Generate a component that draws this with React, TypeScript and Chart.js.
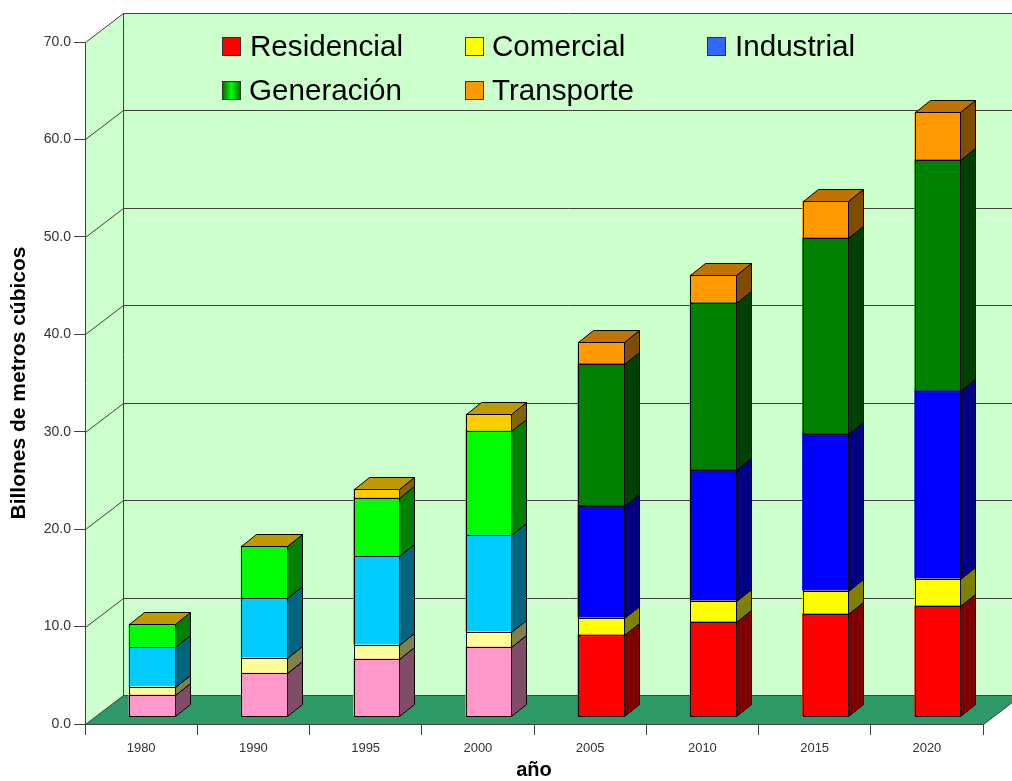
import React, { useEffect, useRef } from "react";
import { Chart, registerables } from "chart.js";

Chart.register(...registerables);

const years = ["1980", "1990", "1995", "2000", "2005", "2010", "2015", "2020"];
const residencial = [2.16, 4.4, 5.85, 7.08, 8.32, 9.65, 10.47, 11.29];
const comercial = [0.85, 1.55, 1.44, 1.54, 1.75, 2.16, 2.36, 2.77];
const industrial = [4.05, 6.16, 9.14, 9.96, 11.5, 13.45, 16.12, 19.3];
const generacion = [2.36, 5.34, 5.95, 10.68, 14.58, 17.15, 20.12, 23.7];
const transporte = [0, 0, 0.92, 1.75, 2.26, 2.87, 3.8, 4.93];

const seriesNames = ["Residencial", "Comercial", "Industrial", "Generación", "Transporte"];
const seriesValues = [residencial, comercial, industrial, generacion, transporte];
const pastelColors = ["#FF99CC", "#FFFF99", "#00CCFF", "#00FF00", "#FFCC00"];
const brightColors = ["#FF0000", "#FFFF00", "#0000FF", "#008000", "#FF9900"];
const pastelYearCount = 4;

const legendColors = ["#FF0000", "#FFFF00", "#3366FF", "#00FF00", "#FF9900"];
const legendSlots = [
  { box: 222, text: 250, base: 56, row: 37 },
  { box: 465, text: 492, base: 56, row: 37 },
  { box: 707, text: 735, base: 56, row: 37 },
  { box: 222, text: 249, base: 100, row: 81 },
  { box: 465, text: 492, base: 100, row: 81 },
];

const FONT = "'Liberation Sans', Arial, sans-serif";
const WALL = "#CCFFCC";
const FLOOR = "#2E9966";
const LINE = "#404040";
const DEPTH_X = 38;
const DEPTH_Y = -29;
const BAR_SHIFT_X = 10.75;
const BAR_SHIFT_Y = -8;
const BAR_DEPTH_X = 15;
const BAR_DEPTH_Y = -12;

function shade(hex: string, f: number) {
  const n = parseInt(hex.slice(1), 16);
  const r = Math.round(((n >> 16) & 255) * f);
  const g = Math.round(((n >> 8) & 255) * f);
  const b = Math.round((n & 255) * f);
  return `rgb(${r},${g},${b})`;
}

function poly(ctx: CanvasRenderingContext2D, pts: number[][], fill: string | null, stroke: string | null) {
  ctx.beginPath();
  pts.forEach((p, i) => (i ? ctx.lineTo(p[0], p[1]) : ctx.moveTo(p[0], p[1])));
  ctx.closePath();
  if (fill) {
    ctx.fillStyle = fill;
    ctx.fill();
  }
  if (stroke) {
    ctx.strokeStyle = stroke;
    ctx.lineWidth = 1;
    ctx.stroke();
  }
}

function seg(ctx: CanvasRenderingContext2D, a: number, b: number, c: number, d: number) {
  ctx.beginPath();
  ctx.moveTo(a, b);
  ctx.lineTo(c, d);
  ctx.stroke();
}

const roomPlugin = {
  id: "room",
  beforeDraw(chart: any) {
    const { ctx, chartArea: ca, scales } = chart;
    const L = ca.left + 0.5;
    const R = ca.right + 0.5;
    const T = ca.top + 0.5;
    const B = ca.bottom + 0.5;
    ctx.save();
    ctx.fillStyle = "#FFFFFF";
    ctx.fillRect(0, 0, chart.width, chart.height);
    poly(ctx, [[L, T], [L + DEPTH_X, T + DEPTH_Y], [L + DEPTH_X, B + DEPTH_Y], [L, B]], WALL, null);
    poly(ctx, [[L + DEPTH_X, T + DEPTH_Y], [R + DEPTH_X, T + DEPTH_Y], [R + DEPTH_X, B + DEPTH_Y], [L + DEPTH_X, B + DEPTH_Y]], WALL, null);
    poly(ctx, [[L, B], [L + DEPTH_X, B + DEPTH_Y], [R + DEPTH_X, B + DEPTH_Y], [R, B]], FLOOR, null);
    ctx.strokeStyle = LINE;
    ctx.lineWidth = 1;
    scales.y.ticks.forEach((t: any) => {
      const y = Math.round(scales.y.getPixelForValue(t.value)) + 0.5;
      seg(ctx, L, y, L + DEPTH_X, y + DEPTH_Y);
      seg(ctx, L + DEPTH_X, y + DEPTH_Y, R + DEPTH_X, y + DEPTH_Y);
    });
    seg(ctx, L + DEPTH_X, T + DEPTH_Y, L + DEPTH_X, B + DEPTH_Y);
    seg(ctx, R, B, R + DEPTH_X, B + DEPTH_Y);
    ctx.restore();
  },
  beforeDatasetsDraw(chart: any) {
    chart.ctx.save();
    chart.ctx.translate(BAR_SHIFT_X, BAR_SHIFT_Y);
  },
  afterDatasetsDraw(chart: any) {
    const ctx = chart.ctx;
    ctx.restore();
    ctx.save();
    const last = seriesNames.length - 1;
    seriesNames.forEach((_, i) => {
      chart.getDatasetMeta(i).data.forEach((bar: any, j: number) => {
        const color = (j < pastelYearCount ? pastelColors : brightColors)[i];
        const right = Math.round(bar.x + bar.width / 2 + BAR_SHIFT_X) + 0.5;
        const left = Math.round(bar.x - bar.width / 2 + BAR_SHIFT_X) + 0.5;
        const top = Math.round(bar.y + BAR_SHIFT_Y) + 0.5;
        const base = Math.round(bar.base + BAR_SHIFT_Y) + 0.5;
        if (base > top) {
          poly(ctx, [[left, top], [right, top], [right, base], [left, base]], null, "#000000");
          poly(ctx, [[right, top], [right + BAR_DEPTH_X, top + BAR_DEPTH_Y], [right + BAR_DEPTH_X, base + BAR_DEPTH_Y], [right, base]], shade(color, 0.5), "#000000");
        }
        if (i === last) {
          poly(ctx, [[left, top], [left + BAR_DEPTH_X, top + BAR_DEPTH_Y], [right + BAR_DEPTH_X, top + BAR_DEPTH_Y], [right, top]], shade(color, 0.75), "#000000");
        }
      });
    });
    ctx.restore();
  },
  afterDraw(chart: any) {
    const ctx = chart.ctx;
    ctx.save();
    ctx.font = `29.6px ${FONT}`;
    ctx.textBaseline = "alphabetic";
    ctx.textAlign = "left";
    seriesNames.forEach((name, i) => {
      const s = legendSlots[i];
      let fill: any = legendColors[i];
      if (name === "Generación") {
        const g = ctx.createLinearGradient(s.box, 0, s.box + 19, 0);
        g.addColorStop(0, "#006600");
        g.addColorStop(0.5, "#00FF00");
        g.addColorStop(1, "#006600");
        fill = g;
      }
      ctx.fillStyle = fill;
      ctx.fillRect(s.box, s.row, 19, 19);
      ctx.strokeStyle = "#333333";
      ctx.lineWidth = 1;
      ctx.strokeRect(s.box + 0.5, s.row + 0.5, 18, 18);
      ctx.fillStyle = "#000000";
      ctx.fillText(name, s.text, s.base);
    });
    ctx.restore();
  },
};

export default function App() {
  const ref = useRef<HTMLCanvasElement>(null);
  useEffect(() => {
    document.body.style.margin = "0";
    const chart = new Chart(ref.current!, {
      type: "bar",
      data: {
        labels: years,
        datasets: seriesNames.map((name, i) => ({
          label: name,
          data: seriesValues[i],
          backgroundColor: years.map((_, j) => (j < pastelYearCount ? pastelColors : brightColors)[i]),
          borderWidth: 0,
          inflateAmount: 0.5,
          barPercentage: 0.4053,
          categoryPercentage: 1,
          stack: "total",
          clip: false,
        })),
      } as any,
      options: {
        responsive: false,
        animation: false,
        devicePixelRatio: 1,
        layout: { padding: { top: 42, right: 29, left: 0, bottom: 0 } },
        plugins: { legend: { display: false }, tooltip: { enabled: false } },
        scales: {
          x: {
            stacked: true,
            afterFit: (s: any) => { s.height = 57; },
            grid: { drawOnChartArea: false, drawTicks: true, tickLength: 11, color: "#404040", offset: true },
            border: { display: true, color: "#404040" },
            ticks: { color: "#333333", font: { family: FONT, size: 13 }, padding: 6, maxRotation: 0, autoSkip: false },
            title: { display: true, text: "año", color: "#000000", font: { family: FONT, size: 20, weight: "bold", lineHeight: 1.1 }, padding: { top: 0, bottom: 0 } },
          },
          y: {
            stacked: true,
            min: 0,
            max: 70,
            afterFit: (s: any) => { s.width = 85; },
            grid: { drawOnChartArea: false, drawTicks: true, tickLength: 11, color: "#404040" },
            border: { display: true, color: "#404040" },
            ticks: { stepSize: 10, color: "#333333", font: { family: FONT, size: 14 }, padding: 3, callback: (v: any) => Number(v).toFixed(1) },
            title: { display: true, text: "Billones de metros cúbicos", color: "#000000", font: { family: FONT, size: 21, weight: "bold" }, padding: { top: 7, bottom: 0 } },
          },
        },
      },
      plugins: [roomPlugin],
    } as any);
    return () => chart.destroy();
  }, []);
  return <canvas ref={ref} width={1012} height={781} style={{ display: "block" }} />;
}
